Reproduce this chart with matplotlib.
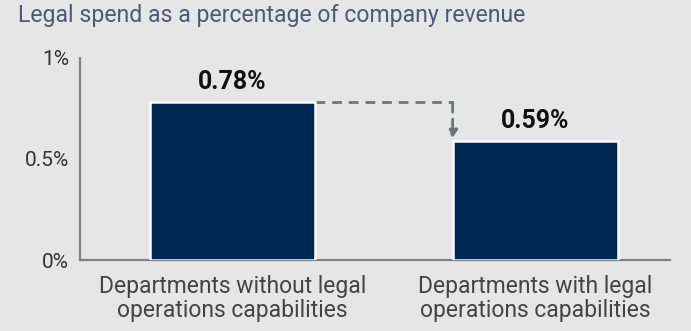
import matplotlib
matplotlib.use("Agg")
import matplotlib.pyplot as plt

categories = ["Departments without legal\noperations capabilities",
              "Departments with legal\noperations capabilities"]
values = [0.78, 0.59]
value_labels = ["0.78%", "0.59%"]
yticks = [0, 0.5, 1]
ytick_labels = ["0%", "0.5%", "1%"]
title = "Legal spend as a percentage of company revenue"

bg = "#e6e6e6"
bar_color = "#002855"
axis_color = "#7b8382"
arrow_color = "#6f7775"

plt.rcParams["font.family"] = ["Roboto", "DejaVu Sans"]

fig = plt.figure(figsize=(6.91, 3.31), dpi=100, facecolor=bg)
ax = fig.add_axes([0.1158, 0.2145, 0.8538, 0.6103])
ax.set_facecolor(bg)

x = list(range(len(values)))
bars = ax.bar(x, values, width=0.545, color=bar_color, edgecolor="white",
              linewidth=1.8, zorder=3)

ax.set_xlim(-0.504, 1.446)
ax.set_ylim(0, 1)

for xi, v, lab in zip(x, values, value_labels):
    ax.text(xi, v + 0.1, lab, ha="center", va="center", fontsize=18,
            fontweight="bold", color="#111111")

# dashed connector from first bar top to second bar
b0 = bars[0]
b1 = bars[1]
x_start = b0.get_x() + b0.get_width()
x_turn = b1.get_x()
ax.plot([x_start, x_turn], [values[0], values[0]], ls=(0, (3.5, 2.5)),
        color=arrow_color, lw=2, zorder=2)
ax.annotate("", xy=(x_turn, values[1] + 0.015), xytext=(x_turn, values[0]),
            arrowprops=dict(arrowstyle="-|>,head_length=0.45,head_width=0.3",
                            color=arrow_color, lw=2, linestyle=(0, (3.5, 2.5)),
                            shrinkA=0, shrinkB=0), zorder=2)

ax.set_yticks(yticks)
ax.set_yticklabels(ytick_labels, fontsize=15, color="#333333")
ax.set_xticks(x)
ax.set_xticklabels(categories, fontsize=16.5, color="#444444", linespacing=1.05)
ax.tick_params(axis="y", length=0, pad=8)
ax.tick_params(axis="x", length=0, pad=11)

for s in ["top", "right"]:
    ax.spines[s].set_visible(False)
for s in ["left", "bottom"]:
    ax.spines[s].set_color(axis_color)
    ax.spines[s].set_linewidth(1.6)

fig.text(0.026, 0.952, title, ha="left", va="center", fontsize=16.6,
         color="#4d5b70")

fig.savefig("out.png", dpi=100, facecolor=bg)
